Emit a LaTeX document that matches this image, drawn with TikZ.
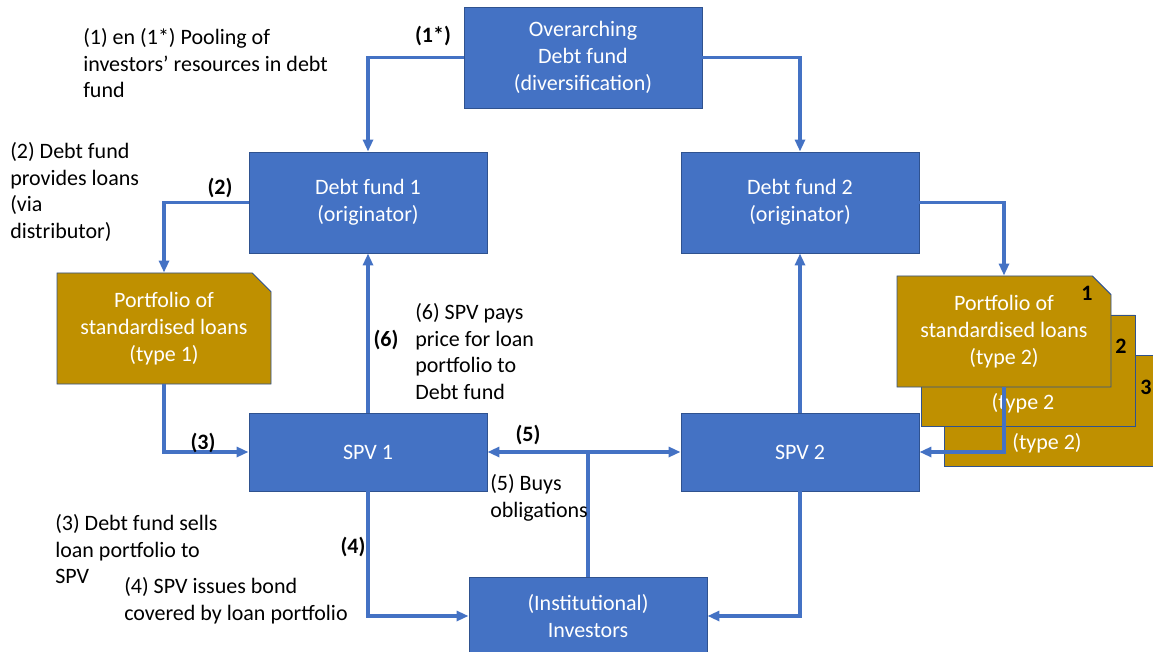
\documentclass[tikz,border=0pt]{standalone}
\usepackage{fontspec}
\setmainfont{Carlito}
\usetikzlibrary{arrows.meta,shapes.misc}
\definecolor{boxblue}{HTML}{4472C4}
\definecolor{edgeblue}{HTML}{2F528F}
\definecolor{loangold}{HTML}{BF9000}

\begin{document}
\begin{tikzpicture}[x=0.75pt,y=-0.75pt,
  every node/.style={font=\fontsize{16.5}{20}\selectfont},
  fundbox/.style={draw=edgeblue, line width=0.7pt, fill=boxblue, text=white,
    align=center, inner sep=0pt, minimum width=178.5pt},
  tallbox/.style={fundbox, minimum height=75.75pt},
  flatbox/.style={fundbox, minimum height=58.5pt},
  loanbox/.style={chamfered rectangle, chamfered rectangle corners=north east,
    chamfered rectangle xsep=7pt, chamfered rectangle ysep=7pt,
    draw=edgeblue, line width=0.7pt, fill=loangold, text=white, align=center,
    inner sep=0pt, minimum width=160.5pt, minimum height=83.25pt},
  note/.style={align=left, inner sep=0pt, anchor=north west},
  steplabel/.style={inner sep=0pt, font=\fontsize{16.5}{20}\selectfont\bfseries},
  flow/.style={draw=boxblue, line width=2.3pt,
    -{Triangle[length=9pt,width=7.5pt]}},
  twoway/.style={draw=boxblue, line width=2.3pt,
    {Triangle[length=9pt,width=7.5pt]}-{Triangle[length=9pt,width=7.5pt]}}]

\useasboundingbox (0,0) rectangle (1153,652);
\clip (0,0) rectangle (1153,652);

% fund and vehicle boxes
\node[tallbox] (over) at (583,57.5) {Overarching\\Debt fund\\(diversification)};
\node[tallbox] (df1) at (368,202.5) {Debt fund 1\\(originator)};
\node[tallbox] (df2) at (800,202.5) {Debt fund 2\\(originator)};
\node[flatbox] (spv1) at (368,452) {SPV 1};
\node[flatbox] (spv2) at (800,452) {SPV 2};
\node[flatbox] (inv) at (588,616) {(Institutional)\\Investors};

% loan portfolios
\node[loanbox] (p1) at (164,328.5) {Portfolio of\\standardised loans\\(type 1)};
\node[loanbox] (s3) at (1051,411) {};
\node[loanbox] (s2) at (1028,370.5) {};
\node[loanbox] (s1) at (1004,331.5) {Portfolio of\\standardised loans\\(type 2)};
\node[text=white, inner sep=0pt] (s2txt) at (1023,403) {(type 2};
\node[text=white, inner sep=0pt] (s3txt) at (1047,443) {(type 2)};
\node[steplabel] (n1) at (1087,293) {1};
\node[steplabel] (n2) at (1121,346) {2};
\node[steplabel] (n3) at (1146,387) {3};

% connectors
\draw[flow] (over.west) -| (df1.north);
\draw[flow] (over.east) -| (df2.north);
\draw[flow] (df1.west) -| (p1.north);
\draw[flow] (p1.south) |- (spv1.west);
\draw[flow] (spv1.north) -- (df1.south);
\draw[flow] (spv1.south) |- (inv.west);
\draw[flow] (spv2.south) |- (inv.east);
\draw[flow] (spv2.north) -- (df2.south);
\draw[flow] (df2.east) -| (s1.north);
\draw[flow] (s1.south) |- (spv2.east);
\draw[twoway] (spv1.east) -- (spv2.west);
\draw[draw=boxblue, line width=2.3pt] (inv.north) -- (inv.north |- spv1.east);

% step labels on the connectors
\node[steplabel] (l1s) at (433,36) {(1*)};
\node[steplabel] (l2) at (220,188) {(2)};
\node[steplabel] (l3) at (203,443) {(3)};
\node[steplabel] (l4) at (353,547) {(4)};
\node[steplabel] (l5) at (528,435) {(5)};
\node[steplabel] (l6) at (386,340) {(6)};

% explanations
\node[note] (t1) at (83,28) {(1) en (1*) Pooling of\\investors’ resources in debt\\fund};
\node[note] (t2) at (10,142) {(2) Debt fund\\provides loans\\(via\\distributor)};
\node[note] (t6) at (415,303) {(6) SPV pays\\price for loan\\portfolio to\\Debt fund};
\node[note] (t3) at (55,514) {(3) Debt fund sells\\loan portfolio to\\SPV};
\node[note] (t5) at (490,474) {(5) Buys\\obligations};
\node[note] (t4) at (124,577) {(4) SPV issues bond\\covered by loan portfolio};
\end{tikzpicture}
\end{document}
